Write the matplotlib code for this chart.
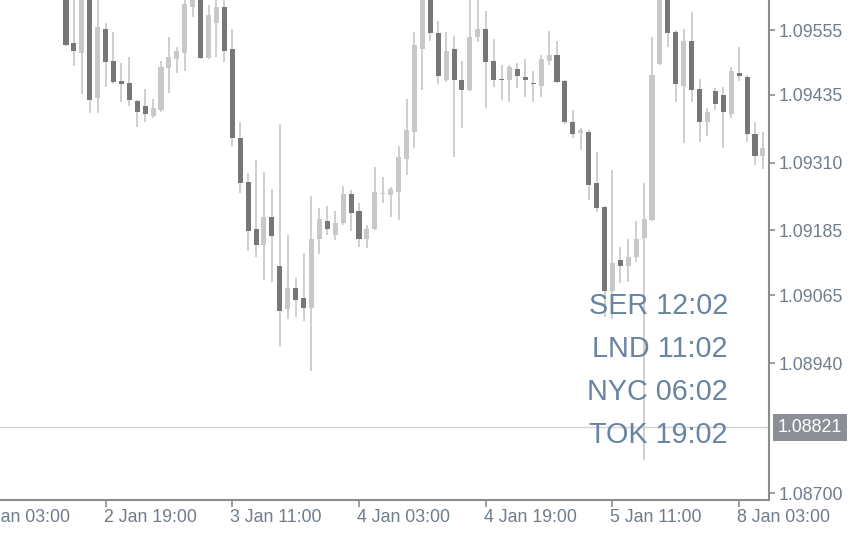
import numpy as np
import pandas as pd
import matplotlib
matplotlib.use("Agg")
import matplotlib.pyplot as plt
from matplotlib.transforms import blended_transform_factory

# H1 candles, EURUSD, first visible bar is 2 Jan 14:00
START = "2024-01-02 14:00"

opens = [
    1.09619, 1.09531, 1.09512, 1.09616, 1.09429, 1.09556, 1.09497, 1.09460, 1.09457, 1.09423,
    1.09414, 1.09396, 1.09407, 1.09484, 1.09501, 1.09512, 1.09597, 1.09616, 1.09503, 1.09568,
    1.09597, 1.09520, 1.09355, 1.09274, 1.09187, 1.09158, 1.09209, 1.09119, 1.09039, 1.09078,
    1.09060, 1.09041, 1.09169, 1.09202, 1.09176, 1.09198, 1.09252, 1.09220, 1.09169, 1.09187,
    1.09252, 1.09250, 1.09255, 1.09316, 1.09366, 1.09520, 1.09617, 1.09549, 1.09462, 1.09520,
    1.09462, 1.09444, 1.09542, 1.09556, 1.09497, 1.09464, 1.09462, 1.09483, 1.09468, 1.09457,
    1.09451, 1.09497, 1.09508, 1.09460, 1.09385, 1.09364, 1.09366, 1.09272, 1.09228, 1.09073,
    1.09130, 1.09119, 1.09135, 1.09170, 1.09204, 1.09492, 1.09619, 1.09551, 1.09451, 1.09534,
    1.09446, 1.09385, 1.09442, 1.09435, 1.09399, 1.09475, 1.09468, 1.09363, 1.09322,
]
highs = [
    1.09625, 1.09616, 1.09620, 1.09622, 1.09616, 1.09568, 1.09551, 1.09494, 1.09505, 1.09425,
    1.09446, 1.09427, 1.09497, 1.09542, 1.09523, 1.09610, 1.09619, 1.09620, 1.09601, 1.09614,
    1.09610, 1.09556, 1.09385, 1.09291, 1.09315, 1.09292, 1.09261, 1.09381, 1.09176, 1.09097,
    1.09143, 1.09248, 1.09226, 1.09230, 1.09220, 1.09267, 1.09259, 1.09235, 1.09195, 1.09302,
    1.09283, 1.09265, 1.09340, 1.09427, 1.09551, 1.09622, 1.09620, 1.09571, 1.09551, 1.09544,
    1.09497, 1.09616, 1.09616, 1.09590, 1.09538, 1.09490, 1.09490, 1.09494, 1.09501, 1.09479,
    1.09508, 1.09553, 1.09534, 1.09462, 1.09407, 1.09374, 1.09370, 1.09329, 1.09230, 1.09296,
    1.09154, 1.09169, 1.09202, 1.09272, 1.09542, 1.09625, 1.09622, 1.09555, 1.09556, 1.09588,
    1.09464, 1.09411, 1.09447, 1.09449, 1.09486, 1.09523, 1.09472, 1.09385, 1.09366,
]
lows = [
    1.09525, 1.09488, 1.09436, 1.09401, 1.09401, 1.09449, 1.09455, 1.09422, 1.09414, 1.09375,
    1.09385, 1.09392, 1.09403, 1.09438, 1.09475, 1.09479, 1.09579, 1.09501, 1.09501, 1.09505,
    1.09496, 1.09340, 1.09254, 1.09147, 1.09135, 1.09093, 1.09089, 1.08971, 1.09021, 1.09025,
    1.09017, 1.08925, 1.09141, 1.09176, 1.09167, 1.09195, 1.09183, 1.09154, 1.09152, 1.09185,
    1.09235, 1.09209, 1.09204, 1.09287, 1.09337, 1.09444, 1.09534, 1.09455, 1.09459, 1.09320,
    1.09374, 1.09442, 1.09532, 1.09411, 1.09449, 1.09425, 1.09422, 1.09447, 1.09431, 1.09422,
    1.09431, 1.09490, 1.09457, 1.09381, 1.09355, 1.09333, 1.09241, 1.09219, 1.09025, 1.09021,
    1.09087, 1.09089, 1.09126, 1.08761, 1.09202, 1.09490, 1.09523, 1.09422, 1.09346, 1.09422,
    1.09348, 1.09359, 1.09407, 1.09337, 1.09392, 1.09460, 1.09348, 1.09305, 1.09298,
]
closes = [
    1.09527, 1.09516, 1.09616, 1.09425, 1.09560, 1.09496, 1.09459, 1.09455, 1.09425, 1.09403,
    1.09399, 1.09411, 1.09486, 1.09505, 1.09516, 1.09603, 1.09616, 1.09503, 1.09582, 1.09597,
    1.09516, 1.09355, 1.09272, 1.09183, 1.09158, 1.09209, 1.09174, 1.09036, 1.09078, 1.09056,
    1.09041, 1.09169, 1.09206, 1.09187, 1.09198, 1.09252, 1.09217, 1.09169, 1.09187, 1.09255,
    1.09254, 1.09261, 1.09320, 1.09370, 1.09527, 1.09617, 1.09549, 1.09470, 1.09516, 1.09462,
    1.09444, 1.09542, 1.09556, 1.09496, 1.09462, 1.09462, 1.09486, 1.09470, 1.09462, 1.09455,
    1.09501, 1.09508, 1.09459, 1.09385, 1.09363, 1.09370, 1.09268, 1.09226, 1.09073, 1.09124,
    1.09119, 1.09135, 1.09169, 1.09206, 1.09472, 1.09619, 1.09549, 1.09455, 1.09534, 1.09444,
    1.09385, 1.09403, 1.09418, 1.09403, 1.09479, 1.09470, 1.09363, 1.09322, 1.09337,
]

price_ticks = [1.09555, 1.09435, 1.09310, 1.09185, 1.09065, 1.08940, 1.08700]
last_price = 1.08821

sessions = ["SER 12:02", "LND 11:02", "NYC 06:02", "TOK 19:02"]

# colours
BEAR = "#777777"
BULL = "#c8c8c8"
WICK = "#cccccc"
FRAME = "#8c8c8c"
TXT = "#6f7c8a"
SESS = "#6884a0"
FS = 12.8


def bar_times(start, n):
    # hourly bars, no weekend
    t = pd.date_range(start, periods=n * 2, freq="h")
    t = t[t.dayofweek < 5]
    return t[:n]


def plot_candles(ax, o, h, l, c):
    o, h, l, c = map(np.asarray, (o, h, l, c))
    x = np.arange(len(o))
    up = c >= o
    ax.vlines(x, l, h, color=WICK, lw=1.3, zorder=1)
    body = np.maximum(np.abs(c - o), 0.00002)
    bottom = np.minimum(o, c)
    ax.bar(x[up], body[up], bottom=bottom[up], width=0.64,
           color=BULL, lw=0, zorder=2)
    ax.bar(x[~up], body[~up], bottom=bottom[~up], width=0.64,
           color=BEAR, lw=0, zorder=2)
    return x


def main():
    plt.rcParams["font.family"] = ["Liberation Sans", "DejaVu Sans"]
    fig = plt.figure(figsize=(8.55, 5.34), dpi=100)
    ax = fig.add_axes([0, 34 / 534, 769 / 855, 500 / 534])

    x = plot_candles(ax, opens, highs, lows, closes)
    times = bar_times(START, len(x))

    ax.axhline(last_price, color="#d4d4d4", lw=1.0, zorder=0)

    ax.set_xlim(-8.33, 88.77)
    ax.set_ylim(1.086871, 1.096104)

    # frame like the terminal: only right and bottom lines
    for s in ["top", "left"]:
        ax.spines[s].set_visible(False)
    for s in ["right", "bottom"]:
        ax.spines[s].set_color(FRAME)
        ax.spines[s].set_linewidth(1.5)

    # price scale on the right
    ax.yaxis.tick_right()
    ax.set_yticks(price_ticks)
    ax.set_yticklabels([f"{p:.5f}" for p in price_ticks])
    ax.tick_params(axis="y", colors=FRAME, labelcolor=TXT, length=4,
                   width=1.2, pad=3, labelsize=FS)

    # time scale: one label every 16 bars
    step = 16
    tick_idx = np.arange(5, len(x), step)
    ax.set_xticks(tick_idx)
    ax.set_xticklabels([])
    ax.tick_params(axis="x", colors=FRAME, length=5, width=1.2)
    trans = blended_transform_factory(ax.transData, ax.transAxes)
    lbl_idx = np.arange(5 - step, len(x), step)
    for i in lbl_idx:
        t = times[0] + pd.Timedelta(hours=int(i)) if i < 0 else times[i]
        ax.text(i - 0.25, -0.034, f"{t.day} {t:%b %H:%M}", transform=trans,
                ha="left", va="center", fontsize=FS, color=TXT,
                clip_on=False)

    # current price box
    ax.annotate(f"{last_price:.5f}", xy=(1.0, last_price),
                xycoords=("axes fraction", "data"),
                xytext=(9, 0), textcoords="offset pixels",
                ha="left", va="center", fontsize=FS, color="white",
                bbox=dict(boxstyle="square,pad=0.28", fc="#8c9096", ec="none"),
                annotation_clip=False)

    # session clocks
    base = [0.372, 0.286, 0.200, 0.114]
    for s, yb in zip(sessions, base):
        ax.text(0.9467, yb, s, transform=ax.transAxes, ha="right",
                va="baseline", fontsize=20.7, color=SESS, zorder=5)

    fig.savefig("out.png", dpi=100)
    plt.close()
    return


if __name__ == "__main__":
    main()
